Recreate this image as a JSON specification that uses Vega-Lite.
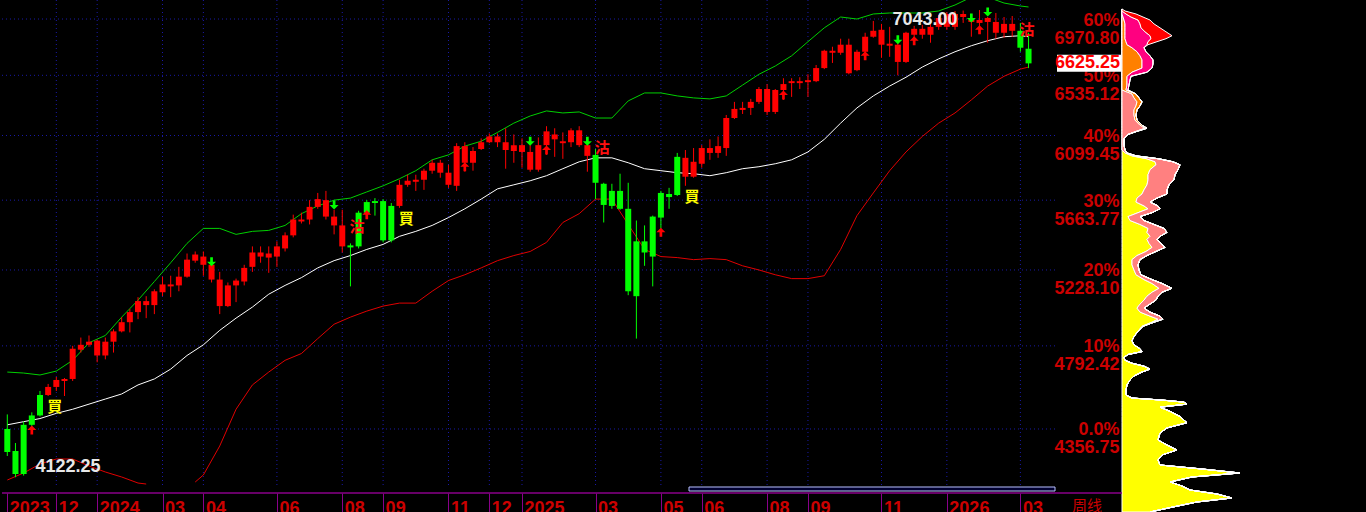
{
"$schema": "https://vega.github.io/schema/vega-lite/v6.json",
"width": 1366, "height": 512,
"autosize": {"type": "none"},
"padding": 0,
"background": "#000000",
"config": {"view": {"stroke": null}, "font": "Liberation Sans"},
"datasets": {
"c": [
{"d":"2023-10-20","o":4356.8,"h":4430.2,"l":4224.0,"c":4243.4,"s":"g"},
{"d":"2023-10-27","o":4248.3,"h":4287.4,"l":4122.25,"c":4137.7,"s":"g"},
{"d":"2023-11-03","o":4377.7,"h":4393.5,"l":4130.0,"c":4137.7,"s":"g"},
{"d":"2023-11-10","o":4425.0,"h":4440.7,"l":4362.0,"c":4377.7,"s":"g"},
{"d":"2023-11-17","o":4530.0,"h":4550.9,"l":4419.7,"c":4425.0,"s":"g"},
{"d":"2023-11-24","o":4530.0,"h":4587.7,"l":4524.7,"c":4572.0,"s":"r"},
{"d":"2023-12-01","o":4572.0,"h":4624.4,"l":4550.9,"c":4608.7,"s":"r"},
{"d":"2023-12-08","o":4603.5,"h":4619.2,"l":4524.7,"c":4614.0,"s":"r"},
{"d":"2023-12-15","o":4614.0,"h":4792.4,"l":4603.5,"c":4776.7,"s":"r"},
{"d":"2023-12-22","o":4771.4,"h":4838.3,"l":4755.7,"c":4798.2,"s":"r"},
{"d":"2023-12-29","o":4798.2,"h":4849.7,"l":4787.2,"c":4815.4,"s":"r"},
{"d":"2024-01-05","o":4739.9,"h":4826.8,"l":4703.2,"c":4821.1,"s":"r"},
{"d":"2024-01-12","o":4739.9,"h":4838.3,"l":4718.9,"c":4815.4,"s":"r"},
{"d":"2024-01-19","o":4815.4,"h":4884.1,"l":4755.7,"c":4872.7,"s":"r"},
{"d":"2024-01-26","o":4872.7,"h":4952.9,"l":4866.9,"c":4924.3,"s":"r"},
{"d":"2024-02-02","o":4924.3,"h":4998.8,"l":4866.9,"c":4981.6,"s":"r"},
{"d":"2024-02-09","o":4981.6,"h":5067.6,"l":4941.5,"c":5044.7,"s":"r"},
{"d":"2024-02-16","o":5021.7,"h":5073.3,"l":4947.2,"c":5044.7,"s":"r"},
{"d":"2024-02-23","o":5021.7,"h":5113.4,"l":4970.1,"c":5102.0,"s":"r"},
{"d":"2024-03-01","o":5096.2,"h":5188.0,"l":5073.3,"c":5142.1,"s":"r"},
{"d":"2024-03-08","o":5130.6,"h":5193.7,"l":5067.6,"c":5142.1,"s":"r"},
{"d":"2024-03-15","o":5136.4,"h":5246.8,"l":5102.0,"c":5188.0,"s":"r"},
{"d":"2024-03-22","o":5188.0,"h":5327.7,"l":5182.2,"c":5290.3,"s":"r"},
{"d":"2024-03-29","o":5284.1,"h":5340.1,"l":5271.7,"c":5321.5,"s":"r"},
{"d":"2024-04-05","o":5259.2,"h":5340.1,"l":5193.7,"c":5309.0,"s":"r"},
{"d":"2024-04-12","o":5170.8,"h":5271.7,"l":5153.6,"c":5259.2,"s":"r"},
{"d":"2024-04-19","o":5016.0,"h":5216.6,"l":4970.1,"c":5170.8,"s":"r"},
{"d":"2024-04-26","o":5016.0,"h":5153.6,"l":5010.3,"c":5136.4,"s":"r"},
{"d":"2024-05-03","o":5136.4,"h":5176.5,"l":5038.9,"c":5165.0,"s":"r"},
{"d":"2024-05-10","o":5159.3,"h":5259.2,"l":5136.4,"c":5240.5,"s":"r"},
{"d":"2024-05-17","o":5246.8,"h":5371.3,"l":5216.6,"c":5333.9,"s":"r"},
{"d":"2024-05-24","o":5309.0,"h":5371.3,"l":5271.7,"c":5333.9,"s":"r"},
{"d":"2024-05-31","o":5302.8,"h":5371.3,"l":5210.9,"c":5327.7,"s":"r"},
{"d":"2024-06-07","o":5309.0,"h":5402.4,"l":5246.8,"c":5371.3,"s":"r"},
{"d":"2024-06-14","o":5358.8,"h":5458.4,"l":5340.1,"c":5439.7,"s":"r"},
{"d":"2024-06-21","o":5439.7,"h":5570.4,"l":5427.3,"c":5539.3,"s":"r"},
{"d":"2024-06-28","o":5526.9,"h":5582.9,"l":5514.4,"c":5539.3,"s":"r"},
{"d":"2024-07-05","o":5539.3,"h":5663.8,"l":5508.2,"c":5620.2,"s":"r"},
{"d":"2024-07-12","o":5620.2,"h":5710.7,"l":5607.8,"c":5670.5,"s":"r"},
{"d":"2024-07-19","o":5558.0,"h":5724.1,"l":5539.3,"c":5663.8,"s":"r"},
{"d":"2024-07-26","o":5502.0,"h":5601.5,"l":5445.9,"c":5558.0,"s":"r"},
{"d":"2024-08-02","o":5371.3,"h":5601.5,"l":5333.9,"c":5502.0,"s":"r"},
{"d":"2024-08-09","o":5377.5,"h":5389.9,"l":5130.6,"c":5365.0,"s":"g"},
{"d":"2024-08-16","o":5582.9,"h":5595.3,"l":5358.8,"c":5371.3,"s":"g"},
{"d":"2024-08-23","o":5651.3,"h":5663.8,"l":5570.4,"c":5582.9,"s":"g"},
{"d":"2024-08-30","o":5657.6,"h":5677.2,"l":5564.2,"c":5645.1,"s":"g"},
{"d":"2024-09-06","o":5657.6,"h":5670.5,"l":5396.1,"c":5408.6,"s":"g"},
{"d":"2024-09-13","o":5626.4,"h":5645.1,"l":5396.1,"c":5408.6,"s":"g"},
{"d":"2024-09-20","o":5626.4,"h":5797.8,"l":5614.0,"c":5764.3,"s":"r"},
{"d":"2024-09-27","o":5764.3,"h":5831.3,"l":5750.9,"c":5791.1,"s":"r"},
{"d":"2024-10-04","o":5784.4,"h":5831.3,"l":5724.1,"c":5797.8,"s":"r"},
{"d":"2024-10-11","o":5797.8,"h":5871.6,"l":5730.8,"c":5858.2,"s":"r"},
{"d":"2024-10-18","o":5858.2,"h":5931.9,"l":5838.0,"c":5911.8,"s":"r"},
{"d":"2024-10-25","o":5844.8,"h":5931.9,"l":5811.2,"c":5911.8,"s":"r"},
{"d":"2024-11-01","o":5764.3,"h":5898.4,"l":5744.2,"c":5844.8,"s":"r"},
{"d":"2024-11-08","o":5757.6,"h":6045.9,"l":5724.1,"c":6025.7,"s":"r"},
{"d":"2024-11-15","o":5911.8,"h":6052.5,"l":5851.5,"c":6025.7,"s":"r"},
{"d":"2024-11-22","o":5911.8,"h":6019.0,"l":5858.2,"c":5992.2,"s":"r"},
{"d":"2024-11-29","o":6005.6,"h":6079.3,"l":5998.9,"c":6052.5,"s":"r"},
{"d":"2024-12-06","o":6052.5,"h":6114.0,"l":6045.9,"c":6092.8,"s":"r"},
{"d":"2024-12-13","o":6052.5,"h":6114.0,"l":6019.0,"c":6092.8,"s":"r"},
{"d":"2024-12-20","o":5998.9,"h":6150.3,"l":5871.6,"c":6052.5,"s":"r"},
{"d":"2024-12-27","o":5992.2,"h":6106.7,"l":5911.8,"c":6032.4,"s":"r"},
{"d":"2025-01-03","o":5985.5,"h":6079.3,"l":5878.3,"c":6032.4,"s":"r"},
{"d":"2025-01-10","o":5864.9,"h":6032.4,"l":5851.5,"c":5985.5,"s":"r"},
{"d":"2025-01-17","o":5864.9,"h":6086.1,"l":5851.5,"c":6032.4,"s":"r"},
{"d":"2025-01-24","o":6032.4,"h":6164.8,"l":5965.4,"c":6128.5,"s":"r"},
{"d":"2025-01-31","o":6072.7,"h":6150.3,"l":5952.0,"c":6106.7,"s":"r"},
{"d":"2025-02-07","o":6045.9,"h":6121.2,"l":5938.6,"c":6059.3,"s":"r"},
{"d":"2025-02-14","o":6052.5,"h":6150.3,"l":6019.0,"c":6135.8,"s":"r"},
{"d":"2025-02-21","o":6032.4,"h":6164.8,"l":6019.0,"c":6135.8,"s":"r"},
{"d":"2025-02-28","o":5958.7,"h":6045.9,"l":5851.5,"c":6032.4,"s":"r"},
{"d":"2025-03-07","o":5965.4,"h":6005.6,"l":5670.5,"c":5777.7,"s":"g"},
{"d":"2025-03-14","o":5771.0,"h":5777.7,"l":5520.6,"c":5632.7,"s":"g"},
{"d":"2025-03-21","o":5724.1,"h":5771.0,"l":5607.8,"c":5626.4,"s":"g"},
{"d":"2025-03-28","o":5724.1,"h":5838.0,"l":5601.5,"c":5607.8,"s":"g"},
{"d":"2025-04-04","o":5607.8,"h":5777.7,"l":5079.1,"c":5102.0,"s":"g"},
{"d":"2025-04-11","o":5402.4,"h":5533.1,"l":4832.5,"c":5073.3,"s":"g"},
{"d":"2025-04-18","o":5402.4,"h":5502.0,"l":5253.0,"c":5333.9,"s":"g"},
{"d":"2025-04-25","o":5558.0,"h":5564.2,"l":5130.6,"c":5309.0,"s":"g"},
{"d":"2025-05-02","o":5710.7,"h":5724.1,"l":5483.3,"c":5551.7,"s":"g"},
{"d":"2025-05-09","o":5704.0,"h":5744.2,"l":5607.8,"c":5683.9,"s":"g"},
{"d":"2025-05-16","o":5952.0,"h":5978.8,"l":5690.6,"c":5697.3,"s":"g"},
{"d":"2025-05-23","o":5818.0,"h":5998.9,"l":5757.6,"c":5945.3,"s":"r"},
{"d":"2025-05-30","o":5818.0,"h":6012.4,"l":5811.2,"c":5918.5,"s":"r"},
{"d":"2025-06-06","o":5905.1,"h":6032.4,"l":5878.3,"c":6012.4,"s":"r"},
{"d":"2025-06-13","o":5978.8,"h":6072.7,"l":5931.9,"c":6012.4,"s":"r"},
{"d":"2025-06-20","o":5978.8,"h":6092.8,"l":5945.3,"c":6025.7,"s":"r"},
{"d":"2025-06-27","o":6012.4,"h":6244.7,"l":5958.7,"c":6222.9,"s":"r"},
{"d":"2025-07-04","o":6222.9,"h":6339.1,"l":6215.6,"c":6288.2,"s":"r"},
{"d":"2025-07-11","o":6281.0,"h":6339.1,"l":6251.9,"c":6295.5,"s":"r"},
{"d":"2025-07-18","o":6295.5,"h":6360.8,"l":6244.7,"c":6339.1,"s":"r"},
{"d":"2025-07-25","o":6339.1,"h":6448.0,"l":6324.5,"c":6433.5,"s":"r"},
{"d":"2025-08-01","o":6266.4,"h":6469.8,"l":6244.7,"c":6433.5,"s":"r"},
{"d":"2025-08-08","o":6266.4,"h":6433.5,"l":6251.9,"c":6426.2,"s":"r"},
{"d":"2025-08-15","o":6426.2,"h":6513.3,"l":6353.6,"c":6469.8,"s":"r"},
{"d":"2025-08-22","o":6477.0,"h":6513.3,"l":6375.4,"c":6491.5,"s":"r"},
{"d":"2025-08-29","o":6477.0,"h":6520.6,"l":6433.5,"c":6491.5,"s":"r"},
{"d":"2025-09-05","o":6484.3,"h":6542.9,"l":6375.4,"c":6498.8,"s":"r"},
{"d":"2025-09-12","o":6491.5,"h":6612.9,"l":6484.3,"c":6589.6,"s":"r"},
{"d":"2025-09-19","o":6589.6,"h":6729.6,"l":6581.8,"c":6721.8,"s":"r"},
{"d":"2025-09-26","o":6706.3,"h":6752.9,"l":6628.5,"c":6721.8,"s":"r"},
{"d":"2025-10-03","o":6706.3,"h":6815.2,"l":6690.7,"c":6768.5,"s":"r"},
{"d":"2025-10-10","o":6550.7,"h":6815.2,"l":6542.9,"c":6768.5,"s":"r"},
{"d":"2025-10-17","o":6574.0,"h":6729.6,"l":6566.2,"c":6714.0,"s":"r"},
{"d":"2025-10-24","o":6714.0,"h":6861.9,"l":6667.4,"c":6830.7,"s":"r"},
{"d":"2025-10-31","o":6830.7,"h":6955.2,"l":6823.0,"c":6877.4,"s":"r"},
{"d":"2025-11-07","o":6768.5,"h":6931.9,"l":6667.4,"c":6885.2,"s":"r"},
{"d":"2025-11-14","o":6760.7,"h":6908.5,"l":6675.1,"c":6776.3,"s":"r"},
{"d":"2025-11-21","o":6636.2,"h":6784.1,"l":6535.1,"c":6768.5,"s":"r"},
{"d":"2025-11-28","o":6636.2,"h":6869.7,"l":6628.5,"c":6861.9,"s":"r"},
{"d":"2025-12-05","o":6846.3,"h":6916.3,"l":6807.4,"c":6893.0,"s":"r"},
{"d":"2025-12-12","o":6846.3,"h":6924.1,"l":6815.2,"c":6893.0,"s":"r"},
{"d":"2025-12-19","o":6846.3,"h":6963.0,"l":6784.1,"c":6908.5,"s":"r"},
{"d":"2025-12-26","o":6908.5,"h":7003.1,"l":6885.2,"c":6978.9,"s":"r"},
{"d":"2026-01-02","o":6908.5,"h":7027.3,"l":6885.2,"c":7011.2,"s":"r"},
{"d":"2026-01-09","o":6908.5,"h":7035.4,"l":6885.2,"c":7011.2,"s":"r"},
{"d":"2026-01-16","o":6986.9,"h":7039.0,"l":6939.7,"c":7011.2,"s":"r"},
{"d":"2026-01-23","o":6947.4,"h":6978.9,"l":6830.7,"c":6963.0,"s":"r"},
{"d":"2026-01-30","o":6939.7,"h":7043.0,"l":6861.9,"c":6963.0,"s":"r"},
{"d":"2026-02-06","o":6947.4,"h":6986.9,"l":6784.1,"c":6978.9,"s":"r"},
{"d":"2026-02-13","o":6861.9,"h":7019.2,"l":6815.2,"c":6947.4,"s":"r"},
{"d":"2026-02-20","o":6861.9,"h":6986.9,"l":6823.0,"c":6931.9,"s":"r"},
{"d":"2026-02-27","o":6877.4,"h":6995.0,"l":6830.7,"c":6931.9,"s":"r"},
{"d":"2026-03-06","o":6877.4,"h":6939.7,"l":6714.0,"c":6745.2,"s":"g"},
{"d":"2026-03-13","o":6737.4,"h":6861.9,"l":6589.6,"c":6625.25,"s":"g"}
],
"b": [
{"d":"2023-10-20","u":4650.7,"m":4377.7},
{"d":"2023-11-03","u":4645.4,"m":4393.5},
{"d":"2023-11-17","u":4635.0,"m":4409.2},
{"d":"2023-12-01","u":4655.9,"m":4435.5},
{"d":"2023-12-15","u":4713.7,"m":4456.5},
{"d":"2023-12-29","u":4809.6,"m":4482.7},
{"d":"2024-01-12","u":4849.8,"m":4509.0},
{"d":"2024-01-26","u":4952.9,"m":4535.2},
{"d":"2024-02-09","u":5050.4,"m":4582.5},
{"d":"2024-02-23","u":5159.3,"m":4614.0},
{"d":"2024-03-08","u":5271.7,"m":4666.4},
{"d":"2024-03-22","u":5389.9,"m":4739.9},
{"d":"2024-04-05","u":5483.3,"m":4798.2},
{"d":"2024-04-19","u":5483.3,"m":4878.4},
{"d":"2024-05-03","u":5445.9,"m":4947.2},
{"d":"2024-05-17","u":5464.6,"m":5010.3},
{"d":"2024-05-31","u":5470.8,"m":5084.8},
{"d":"2024-06-14","u":5502.0,"m":5136.4},
{"d":"2024-06-28","u":5576.6,"m":5182.2},
{"d":"2024-07-12","u":5626.4,"m":5240.5},
{"d":"2024-07-26","u":5663.8,"m":5284.1},
{"d":"2024-08-09","u":5677.2,"m":5315.2},
{"d":"2024-08-23","u":5717.4,"m":5352.6},
{"d":"2024-09-06","u":5757.6,"m":5383.7},
{"d":"2024-09-20","u":5804.5,"m":5433.5},
{"d":"2024-10-04","u":5858.2,"m":5464.6},
{"d":"2024-10-18","u":5931.9,"m":5502.0},
{"d":"2024-11-01","u":5965.4,"m":5551.7},
{"d":"2024-11-15","u":6025.7,"m":5607.8},
{"d":"2024-11-29","u":6059.3,"m":5670.5},
{"d":"2024-12-13","u":6121.2,"m":5737.5},
{"d":"2024-12-27","u":6186.6,"m":5764.3},
{"d":"2025-01-10","u":6237.4,"m":5791.1},
{"d":"2025-01-24","u":6273.7,"m":5824.7},
{"d":"2025-02-07","u":6259.2,"m":5871.6},
{"d":"2025-02-21","u":6266.4,"m":5918.5},
{"d":"2025-03-07","u":6222.9,"m":5945.3},
{"d":"2025-03-21","u":6222.9,"m":5945.3},
{"d":"2025-04-04","u":6346.3,"m":5911.8},
{"d":"2025-04-18","u":6404.4,"m":5871.6},
{"d":"2025-05-02","u":6404.4,"m":5858.2},
{"d":"2025-05-16","u":6382.6,"m":5844.8},
{"d":"2025-05-30","u":6368.1,"m":5838.0},
{"d":"2025-06-13","u":6360.8,"m":5824.7},
{"d":"2025-06-27","u":6382.6,"m":5844.8},
{"d":"2025-07-11","u":6462.5,"m":5871.6},
{"d":"2025-07-25","u":6542.9,"m":5885.0},
{"d":"2025-08-08","u":6605.1,"m":5905.1},
{"d":"2025-08-22","u":6682.9,"m":5931.9},
{"d":"2025-09-05","u":6791.9,"m":5985.5},
{"d":"2025-09-19","u":6900.8,"m":6072.7},
{"d":"2025-10-03","u":6986.9,"m":6186.6},
{"d":"2025-10-17","u":6970.8,"m":6295.5},
{"d":"2025-10-31","u":7011.2,"m":6382.6},
{"d":"2025-11-14","u":7019.2,"m":6455.2},
{"d":"2025-11-28","u":7019.2,"m":6520.6},
{"d":"2025-12-12","u":7019.2,"m":6597.4},
{"d":"2025-12-26","u":7035.4,"m":6659.6},
{"d":"2026-01-09","u":7083.8,"m":6714.0},
{"d":"2026-01-23","u":7148.3,"m":6760.7},
{"d":"2026-02-06","u":7148.3,"m":6799.6},
{"d":"2026-02-20","u":7099.9,"m":6830.7},
{"d":"2026-03-06","u":7075.7,"m":6838.5},
{"d":"2026-03-13","u":7067.6,"m":6830.7}
],
"lo": [
{"d":"2023-10-20","v":4109.2,"g":1},
{"d":"2023-11-03","v":4142.4,"g":1},
{"d":"2023-11-17","v":4185.4,"g":1},
{"d":"2023-12-01","v":4209.4,"g":1},
{"d":"2023-12-15","v":4209.4,"g":1},
{"d":"2023-12-29","v":4175.8,"g":1},
{"d":"2024-01-12","v":4147.2,"g":1},
{"d":"2024-01-26","v":4123.5,"g":1},
{"d":"2024-02-09","v":4095.1,"g":1},
{"d":"2024-02-16","v":4090.4,"g":1},
{"d":"2024-03-29","v":4099.8,"g":2},
{"d":"2024-04-05","v":4133.0,"g":2},
{"d":"2024-04-19","v":4272.7,"g":2},
{"d":"2024-05-03","v":4456.5,"g":2},
{"d":"2024-05-17","v":4582.5,"g":2},
{"d":"2024-05-31","v":4650.7,"g":2},
{"d":"2024-06-14","v":4713.7,"g":2},
{"d":"2024-06-28","v":4750.4,"g":2},
{"d":"2024-07-12","v":4832.5,"g":2},
{"d":"2024-07-26","v":4912.8,"g":2},
{"d":"2024-08-09","v":4952.9,"g":2},
{"d":"2024-08-23","v":4987.3,"g":2},
{"d":"2024-09-06","v":5016.0,"g":2},
{"d":"2024-09-20","v":5033.2,"g":2},
{"d":"2024-10-04","v":5033.2,"g":2},
{"d":"2024-10-18","v":5102.0,"g":2},
{"d":"2024-11-01","v":5165.0,"g":2},
{"d":"2024-11-15","v":5199.4,"g":2},
{"d":"2024-11-29","v":5240.5,"g":2},
{"d":"2024-12-13","v":5284.1,"g":2},
{"d":"2024-12-27","v":5315.2,"g":2},
{"d":"2025-01-10","v":5340.1,"g":2},
{"d":"2025-01-24","v":5396.1,"g":2},
{"d":"2025-02-07","v":5520.6,"g":2},
{"d":"2025-02-21","v":5576.6,"g":2},
{"d":"2025-03-07","v":5670.5,"g":2},
{"d":"2025-03-21","v":5670.5,"g":2},
{"d":"2025-04-04","v":5508.2,"g":2},
{"d":"2025-04-18","v":5352.6,"g":2},
{"d":"2025-05-02","v":5309.0,"g":2},
{"d":"2025-05-16","v":5302.8,"g":2},
{"d":"2025-05-30","v":5290.3,"g":2},
{"d":"2025-06-13","v":5296.6,"g":2},
{"d":"2025-06-27","v":5290.3,"g":2},
{"d":"2025-07-11","v":5253.0,"g":2},
{"d":"2025-07-25","v":5228.1,"g":2},
{"d":"2025-08-08","v":5199.4,"g":2},
{"d":"2025-08-22","v":5176.5,"g":2},
{"d":"2025-09-05","v":5176.5,"g":2},
{"d":"2025-09-19","v":5193.7,"g":2},
{"d":"2025-10-03","v":5352.6,"g":2},
{"d":"2025-10-17","v":5564.2,"g":2},
{"d":"2025-10-31","v":5710.7,"g":2},
{"d":"2025-11-14","v":5858.2,"g":2},
{"d":"2025-11-28","v":5985.5,"g":2},
{"d":"2025-12-12","v":6092.8,"g":2},
{"d":"2025-12-26","v":6186.6,"g":2},
{"d":"2026-01-09","v":6259.2,"g":2},
{"d":"2026-01-23","v":6353.6,"g":2},
{"d":"2026-02-06","v":6455.2,"g":2},
{"d":"2026-02-20","v":6527.9,"g":2},
{"d":"2026-03-06","v":6581.8,"g":2},
{"d":"2026-03-13","v":6597.4,"g":2}
],
"ar": [
{"d":"2023-11-10","p":4351.8,"k":"u"},
{"d":"2024-08-23","p":5570.4,"k":"u"},
{"d":"2024-11-15","p":5885.0,"k":"u"},
{"d":"2025-01-24","p":5998.9,"k":"u"},
{"d":"2025-05-02","p":5458.4,"k":"u"},
{"d":"2025-08-15","p":6389.9,"k":"u"},
{"d":"2025-10-24","p":6682.9,"k":"u"},
{"d":"2025-12-05","p":6799.6,"k":"u"},
{"d":"2026-01-30","p":6885.2,"k":"u"},
{"d":"2024-04-12","p":5277.9,"k":"d"},
{"d":"2024-07-26","p":5632.7,"k":"d"},
{"d":"2025-01-10","p":6059.3,"k":"d"},
{"d":"2025-02-28","p":6059.3,"k":"d"},
{"d":"2025-11-21","p":6807.4,"k":"d"},
{"d":"2026-01-23","p":6978.9,"k":"d"},
{"d":"2026-02-06","p":7027.3,"k":"d"}
],
"tx": [
{"d":"2023-12-01","t":"買","p":4467.0},
{"d":"2024-09-27","t":"買","p":5545.5},
{"d":"2025-05-30","t":"買","p":5683.9},
{"d":"2024-08-16","t":"沽","p":5489.5},
{"d":"2025-03-14","t":"沽","p":6012.4},
{"d":"2026-03-13","t":"沽","p":6885.2}
],
"tk": [
{"d":"2023-12-01"},{"d":"2024-01-05"},{"d":"2024-03-01"},{"d":"2024-04-05"},{"d":"2024-06-07"},{"d":"2024-08-02"},{"d":"2024-09-06"},{"d":"2024-11-01"},{"d":"2024-12-06"},{"d":"2025-01-03"},{"d":"2025-03-07"},{"d":"2025-05-02"},{"d":"2025-06-06"},{"d":"2025-08-01"},{"d":"2025-09-05"},{"d":"2025-11-07"},{"d":"2026-01-02"},{"d":"2026-03-06"}
],
"lv": [{"p":4356.75},{"p":4792.42},{"p":5228.10},{"p":5663.77},{"p":6099.45},{"p":6535.12},{"p":6970.80}],
"pf": [
{"p":7051.5,"a":0,"b":0,"c":0,"d":0,"e":0},
{"p":7035.4,"a":0,"b":0,"c":0,"d":0,"e":3},
{"p":7011.2,"a":0,"b":0,"c":0,"d":4,"e":10},
{"p":6986.9,"a":0,"b":0,"c":1,"d":8,"e":12},
{"p":6963.0,"a":0,"b":0,"c":2,"d":14,"e":12},
{"p":6931.9,"a":0,"b":0,"c":3,"d":15,"e":14},
{"p":6900.8,"a":0,"b":0,"c":3,"d":16,"e":19},
{"p":6869.6,"a":0,"b":0,"c":3,"d":20,"e":21},
{"p":6838.5,"a":0,"b":0,"c":3,"d":25,"e":22},
{"p":6815.2,"a":0,"b":0,"c":3,"d":26,"e":15},
{"p":6791.9,"a":0,"b":0,"c":4,"d":22,"e":9},
{"p":6768.5,"a":0,"b":0,"c":5,"d":20,"e":1},
{"p":6745.2,"a":0,"b":0,"c":10,"d":12,"e":0},
{"p":6714.0,"a":0,"b":0,"c":15,"d":9,"e":0},
{"p":6682.9,"a":0,"b":0,"c":18,"d":10,"e":0},
{"p":6651.8,"a":0,"b":0,"c":20,"d":11,"e":0},
{"p":6620.7,"a":0,"b":0,"c":20,"d":11,"e":0},
{"p":6589.6,"a":0,"b":0,"c":20,"d":10,"e":0},
{"p":6558.5,"a":0,"b":0,"c":10,"d":15,"e":0},
{"p":6527.9,"a":0,"b":0,"c":5,"d":4,"e":0},
{"p":6498.8,"a":0,"b":0,"c":5,"d":3,"e":0},
{"p":6462.5,"a":0,"b":0,"c":5,"d":2,"e":0},
{"p":6426.2,"a":0,"b":0,"c":4,"d":2,"e":0},
{"p":6397.2,"a":0,"b":10,"c":4,"d":0,"e":0},
{"p":6368.1,"a":0,"b":12,"c":5,"d":0,"e":0},
{"p":6339.1,"a":0,"b":15,"c":5,"d":0,"e":0},
{"p":6310.0,"a":0,"b":14,"c":4,"d":0,"e":0},
{"p":6281.0,"a":0,"b":12,"c":3,"d":0,"e":0},
{"p":6244.7,"a":0,"b":12,"c":2,"d":0,"e":0},
{"p":6208.4,"a":0,"b":13,"c":2,"d":0,"e":0},
{"p":6172.1,"a":0,"b":18,"c":2,"d":0,"e":0},
{"p":6150.3,"a":0,"b":23,"c":2,"d":0,"e":0},
{"p":6128.5,"a":0,"b":14,"c":1,"d":0,"e":0},
{"p":6106.7,"a":0,"b":6,"c":0,"d":0,"e":0},
{"p":6079.3,"a":0,"b":2,"c":0,"d":0,"e":0},
{"p":6032.4,"a":0,"b":2,"c":0,"d":0,"e":0},
{"p":5998.9,"a":0,"b":3,"c":0,"d":0,"e":0},
{"p":5978.8,"a":3,"b":2,"c":0,"d":0,"e":0},
{"p":5958.7,"a":10,"b":4,"c":0,"d":0,"e":0},
{"p":5938.6,"a":25,"b":12,"c":0,"d":0,"e":0},
{"p":5918.5,"a":33,"b":18,"c":0,"d":0,"e":0},
{"p":5898.4,"a":34,"b":24,"c":0,"d":0,"e":0},
{"p":5864.9,"a":28,"b":28,"c":0,"d":0,"e":0},
{"p":5831.3,"a":26,"b":27,"c":0,"d":0,"e":0},
{"p":5797.8,"a":26,"b":26,"c":0,"d":0,"e":0},
{"p":5764.3,"a":25,"b":22,"c":0,"d":0,"e":0},
{"p":5730.8,"a":22,"b":23,"c":0,"d":0,"e":0},
{"p":5704.0,"a":20,"b":25,"c":0,"d":0,"e":0},
{"p":5677.2,"a":15,"b":20,"c":0,"d":0,"e":0},
{"p":5651.3,"a":14,"b":14,"c":0,"d":0,"e":0},
{"p":5626.4,"a":22,"b":14,"c":0,"d":0,"e":0},
{"p":5607.8,"a":26,"b":12,"c":0,"d":0,"e":0},
{"p":5582.9,"a":16,"b":14,"c":0,"d":0,"e":0},
{"p":5558.0,"a":6,"b":12,"c":0,"d":0,"e":0},
{"p":5533.1,"a":8,"b":14,"c":0,"d":0,"e":0},
{"p":5508.2,"a":18,"b":14,"c":0,"d":0,"e":0},
{"p":5483.3,"a":26,"b":16,"c":0,"d":0,"e":0},
{"p":5458.4,"a":25,"b":20,"c":0,"d":0,"e":0},
{"p":5433.5,"a":28,"b":10,"c":0,"d":0,"e":0},
{"p":5414.8,"a":25,"b":10,"c":0,"d":0,"e":0},
{"p":5389.9,"a":27,"b":12,"c":0,"d":0,"e":0},
{"p":5365.0,"a":30,"b":13,"c":0,"d":0,"e":0},
{"p":5340.1,"a":24,"b":10,"c":0,"d":0,"e":0},
{"p":5315.2,"a":15,"b":10,"c":0,"d":0,"e":0},
{"p":5290.3,"a":10,"b":8,"c":0,"d":0,"e":0},
{"p":5259.2,"a":10,"b":6,"c":0,"d":0,"e":0},
{"p":5228.1,"a":12,"b":5,"c":0,"d":0,"e":0},
{"p":5199.4,"a":14,"b":5,"c":0,"d":0,"e":0},
{"p":5170.8,"a":22,"b":8,"c":0,"d":0,"e":0},
{"p":5147.8,"a":30,"b":10,"c":0,"d":0,"e":0},
{"p":5119.2,"a":37,"b":13,"c":0,"d":0,"e":0},
{"p":5096.2,"a":30,"b":10,"c":0,"d":0,"e":0},
{"p":5073.3,"a":25,"b":11,"c":0,"d":0,"e":0},
{"p":5050.4,"a":22,"b":12,"c":0,"d":0,"e":0},
{"p":5027.5,"a":18,"b":10,"c":0,"d":0,"e":0},
{"p":5004.5,"a":15,"b":7,"c":0,"d":0,"e":0},
{"p":4981.6,"a":18,"b":10,"c":0,"d":0,"e":0},
{"p":4958.7,"a":28,"b":10,"c":0,"d":0,"e":0},
{"p":4941.5,"a":36,"b":5,"c":0,"d":0,"e":0},
{"p":4924.3,"a":30,"b":2,"c":0,"d":0,"e":0},
{"p":4901.3,"a":20,"b":1,"c":0,"d":0,"e":0},
{"p":4872.7,"a":16,"b":0,"c":0,"d":0,"e":0},
{"p":4844.0,"a":12,"b":0,"c":0,"d":0,"e":0},
{"p":4821.1,"a":10,"b":0,"c":0,"d":0,"e":0},
{"p":4798.2,"a":12,"b":0,"c":0,"d":0,"e":0},
{"p":4776.7,"a":18,"b":0,"c":0,"d":0,"e":0},
{"p":4761.0,"a":20,"b":0,"c":0,"d":0,"e":0},
{"p":4745.2,"a":6,"b":0,"c":0,"d":0,"e":0},
{"p":4729.4,"a":2,"b":0,"c":0,"d":0,"e":0},
{"p":4713.7,"a":3,"b":0,"c":0,"d":0,"e":0},
{"p":4697.9,"a":10,"b":0,"c":0,"d":0,"e":0},
{"p":4682.2,"a":22,"b":0,"c":0,"d":0,"e":0},
{"p":4666.4,"a":28,"b":0,"c":0,"d":0,"e":0},
{"p":4650.7,"a":20,"b":0,"c":0,"d":0,"e":0},
{"p":4629.7,"a":12,"b":0,"c":0,"d":0,"e":0},
{"p":4608.7,"a":8,"b":0,"c":0,"d":0,"e":0},
{"p":4582.5,"a":5,"b":0,"c":0,"d":0,"e":0},
{"p":4556.2,"a":4,"b":0,"c":0,"d":0,"e":0},
{"p":4530.0,"a":4,"b":0,"c":0,"d":0,"e":0},
{"p":4514.2,"a":10,"b":0,"c":0,"d":0,"e":0},
{"p":4503.7,"a":40,"b":0,"c":0,"d":0,"e":0},
{"p":4493.2,"a":62,"b":0,"c":0,"d":0,"e":0},
{"p":4482.7,"a":65,"b":0,"c":0,"d":0,"e":0},
{"p":4467.0,"a":38,"b":0,"c":0,"d":0,"e":0},
{"p":4446.0,"a":48,"b":0,"c":0,"d":0,"e":0},
{"p":4419.7,"a":58,"b":0,"c":0,"d":0,"e":0},
{"p":4388.2,"a":65,"b":0,"c":0,"d":0,"e":0},
{"p":4362.0,"a":45,"b":0,"c":0,"d":0,"e":0},
{"p":4336.8,"a":38,"b":0,"c":0,"d":0,"e":0},
{"p":4302.2,"a":36,"b":0,"c":0,"d":0,"e":0},
{"p":4277.6,"a":45,"b":0,"c":0,"d":0,"e":0},
{"p":4253.1,"a":55,"b":0,"c":0,"d":0,"e":0},
{"p":4228.8,"a":40,"b":0,"c":0,"d":0,"e":0},
{"p":4204.7,"a":36,"b":0,"c":0,"d":0,"e":0},
{"p":4180.6,"a":38,"b":0,"c":0,"d":0,"e":0},
{"p":4161.5,"a":80,"b":0,"c":0,"d":0,"e":0},
{"p":4142.4,"a":118,"b":0,"c":0,"d":0,"e":0},
{"p":4123.5,"a":70,"b":0,"c":0,"d":0,"e":0},
{"p":4099.8,"a":48,"b":0,"c":0,"d":0,"e":0},
{"p":4081.2,"a":60,"b":0,"c":0,"d":0,"e":0},
{"p":4062.5,"a":68,"b":0,"c":0,"d":0,"e":0},
{"p":4043.9,"a":95,"b":0,"c":0,"d":0,"e":0},
{"p":4025.4,"a":110,"b":0,"c":0,"d":0,"e":0},
{"p":4007.0,"a":75,"b":0,"c":0,"d":0,"e":0},
{"p":3984.1,"a":51,"b":0,"c":0,"d":0,"e":0},
{"p":3961.3,"a":28,"b":0,"c":0,"d":0,"e":0}
]
},
"resolve": {"scale": {"x": "independent", "color": "independent"}},
"layer": [
{
"resolve": {"scale": {"color": "independent", "shape": "independent"}},
"layer": [
{"data": {"name": "tk"}, "mark": {"type": "rule", "color": "#1a1aa8", "strokeDash": [1, 3], "strokeWidth": 1},
 "encoding": {
  "x": {"field": "d", "type": "temporal", "title": null,
   "scale": {"type": "utc", "padding": 0, "domain": [{"year":2023,"month":10,"date":13,"hours":17,"minutes":53,"utc":true},{"year":2026,"month":12,"date":27,"hours":3,"minutes":7,"utc":true}]},
   "axis": {"values": [{"year":2023,"month":10,"date":20,"utc":true},{"year":2023,"month":12,"date":1,"utc":true},{"year":2024,"month":1,"date":5,"utc":true},{"year":2024,"month":3,"date":1,"utc":true},{"year":2024,"month":4,"date":5,"utc":true},{"year":2024,"month":6,"date":7,"utc":true},{"year":2024,"month":8,"date":2,"utc":true},{"year":2024,"month":9,"date":6,"utc":true},{"year":2024,"month":11,"date":1,"utc":true},{"year":2024,"month":12,"date":6,"utc":true},{"year":2025,"month":1,"date":3,"utc":true},{"year":2025,"month":3,"date":7,"utc":true},{"year":2025,"month":5,"date":2,"utc":true},{"year":2025,"month":6,"date":6,"utc":true},{"year":2025,"month":8,"date":1,"utc":true},{"year":2025,"month":9,"date":5,"utc":true},{"year":2025,"month":11,"date":7,"utc":true},{"year":2026,"month":1,"date":2,"utc":true},{"year":2026,"month":3,"date":6,"utc":true}],
    "labelExpr": "(utcmonth(datum.value)==0 || utcmonth(datum.value)==9) ? utcFormat(datum.value,'%Y') : utcFormat(datum.value,'%m')",
    "domain": false, "grid": false, "ticks": true, "tickColor": "#8a008a", "tickSize": 20, "tickWidth": 1,
    "labelColor": "#cc0000", "labelFont": "Liberation Sans", "labelFontSize": 18, "labelFontWeight": "bold",
    "labelAlign": "left", "labelBaseline": "top", "labelPadding": -14, "labelOffset": 2, "offset": -19,
    "labelOverlap": false, "labelFlush": false, "labelBound": false, "title": null, "zindex": 1}},
  "y": {"datum": 7124.5, "type": "quantitative", "title": null, "scale": {"type": "log", "domain": [3961.3, 7124.5], "nice": false}},
  "y2": {"datum": 4076.5}
 }},
{"data": {"name": "lv"}, "mark": {"type": "rule", "color": "#1a1aa8", "strokeDash": [1, 3], "strokeWidth": 1},
 "encoding": {
  "x": {"datum": {"year":2023,"month":10,"date":15,"hours":11,"utc":true}, "type": "temporal", "title": null,
   "scale": {"type": "utc", "padding": 0, "domain": [{"year":2023,"month":10,"date":13,"hours":17,"minutes":53,"utc":true},{"year":2026,"month":12,"date":27,"hours":3,"minutes":7,"utc":true}]}},
  "x2": {"datum": {"year":2026,"month":4,"date":5,"hours":12,"minutes":29,"utc":true}},
  "y": {"field": "p", "type": "quantitative", "title": null, "scale": {"type": "log", "domain": [3961.3, 7124.5], "nice": false},
   "axis": {"orient": "left", "offset": -1121, "values": [4356.75, 4792.42, 5228.10, 5663.77, 6099.45, 6535.12, 6970.80],
    "labelExpr": "[datum.value < 4400 ? '0.0%' : format(round((datum.value/4356.75-1)*100),'d') + '%', format(datum.value,'.2f')]",
    "labelAlign": "right", "labelBaseline": "top", "labelOffset": -8, "labelLineHeight": 18, "labelPadding": 2,
    "ticks": false, "domain": false, "grid": false, "labelColor": "#cc0000", "labelFontSize": 18, "labelFontWeight": "bold",
    "labelFont": "Liberation Sans", "title": null, "labelOverlap": false, "labelFlush": false, "labelBound": false}}
 }},
{"mark": {"type": "rule", "color": "#ff2020", "strokeWidth": 2},
 "encoding": {
  "x": {"datum": {"year":2023,"month":10,"date":15,"hours":11,"utc":true}, "type": "temporal", "title": null,
   "scale": {"type": "utc", "padding": 0, "domain": [{"year":2023,"month":10,"date":13,"hours":17,"minutes":53,"utc":true},{"year":2026,"month":12,"date":27,"hours":3,"minutes":7,"utc":true}]}}
 }},
{"mark": {"type": "rule", "color": "#8a008a", "strokeWidth": 1.5},
 "encoding": {
  "x": {"datum": {"year":2026,"month":4,"date":5,"hours":12,"minutes":29,"utc":true}, "type": "temporal", "title": null,
   "scale": {"type": "utc", "padding": 0, "domain": [{"year":2023,"month":10,"date":13,"hours":17,"minutes":53,"utc":true},{"year":2026,"month":12,"date":27,"hours":3,"minutes":7,"utc":true}]}}
 }},
{"data": {"name": "b"}, "mark": {"type": "line", "color": "#00d000", "strokeWidth": 1, "clip": true},
 "encoding": {
  "x": {"field": "d", "type": "temporal", "title": null,
   "scale": {"type": "utc", "padding": 0, "domain": [{"year":2023,"month":10,"date":13,"hours":17,"minutes":53,"utc":true},{"year":2026,"month":12,"date":27,"hours":3,"minutes":7,"utc":true}]}},
  "y": {"field": "u", "type": "quantitative", "title": null, "scale": {"type": "log", "domain": [3961.3, 7124.5], "nice": false}}
 }},
{"data": {"name": "b"}, "mark": {"type": "line", "color": "#ffffff", "strokeWidth": 1},
 "encoding": {
  "x": {"field": "d", "type": "temporal", "title": null,
   "scale": {"type": "utc", "padding": 0, "domain": [{"year":2023,"month":10,"date":13,"hours":17,"minutes":53,"utc":true},{"year":2026,"month":12,"date":27,"hours":3,"minutes":7,"utc":true}]}},
  "y": {"field": "m", "type": "quantitative", "title": null, "scale": {"type": "log", "domain": [3961.3, 7124.5], "nice": false}}
 }},
{"data": {"name": "lo"}, "mark": {"type": "line", "color": "#e00000", "strokeWidth": 1},
 "encoding": {
  "x": {"field": "d", "type": "temporal", "title": null,
   "scale": {"type": "utc", "padding": 0, "domain": [{"year":2023,"month":10,"date":13,"hours":17,"minutes":53,"utc":true},{"year":2026,"month":12,"date":27,"hours":3,"minutes":7,"utc":true}]}},
  "y": {"field": "v", "type": "quantitative", "title": null, "scale": {"type": "log", "domain": [3961.3, 7124.5], "nice": false}},
  "detail": {"field": "g", "type": "nominal"}
 }},
{"data": {"name": "c"}, "mark": {"type": "rule", "strokeWidth": 1},
 "encoding": {
  "x": {"field": "d", "type": "temporal", "title": null,
   "scale": {"type": "utc", "padding": 0, "domain": [{"year":2023,"month":10,"date":13,"hours":17,"minutes":53,"utc":true},{"year":2026,"month":12,"date":27,"hours":3,"minutes":7,"utc":true}]}},
  "y": {"field": "l", "type": "quantitative", "title": null, "scale": {"type": "log", "domain": [3961.3, 7124.5], "nice": false}},
  "y2": {"field": "h"},
  "color": {"field": "s", "type": "nominal", "scale": {"domain": ["r", "g"], "range": ["#ff0000", "#00ff00"]}, "legend": null}
 }},
{"data": {"name": "c"}, "mark": {"type": "bar", "size": 6},
 "encoding": {
  "x": {"field": "d", "type": "temporal", "title": null,
   "scale": {"type": "utc", "padding": 0, "domain": [{"year":2023,"month":10,"date":13,"hours":17,"minutes":53,"utc":true},{"year":2026,"month":12,"date":27,"hours":3,"minutes":7,"utc":true}]}},
  "y": {"field": "o", "type": "quantitative", "title": null, "scale": {"type": "log", "domain": [3961.3, 7124.5], "nice": false}},
  "y2": {"field": "c"},
  "color": {"field": "s", "type": "nominal", "scale": {"domain": ["r", "g"], "range": ["#ff0000", "#00ff00"]}, "legend": null}
 }},
{"data": {"name": "ar"}, "mark": {"type": "point", "filled": true, "size": 81, "opacity": 1, "strokeWidth": 0},
 "encoding": {
  "x": {"field": "d", "type": "temporal", "title": null,
   "scale": {"type": "utc", "padding": 0, "domain": [{"year":2023,"month":10,"date":13,"hours":17,"minutes":53,"utc":true},{"year":2026,"month":12,"date":27,"hours":3,"minutes":7,"utc":true}]}},
  "y": {"field": "p", "type": "quantitative", "title": null, "scale": {"type": "log", "domain": [3961.3, 7124.5], "nice": false}},
  "shape": {"field": "k", "type": "nominal", "scale": {"domain": ["u", "d"], "range": ["M-0.3,1L0.3,1L0.3,0L1,0L0,-1L-1,0L-0.3,0Z", "M-0.3,-1L0.3,-1L0.3,0L1,0L0,1L-1,0L-0.3,0Z"]}, "legend": null},
  "color": {"field": "k", "type": "nominal", "scale": {"domain": ["u", "d"], "range": ["#ff0000", "#00ff00"]}, "legend": null}
 }},
{"data": {"name": "tx"}, "mark": {"type": "text", "font": "Noto Sans CJK TC", "fontSize": 15, "fontWeight": "bold", "dx": -1.5, "baseline": "middle", "align": "center"},
 "encoding": {
  "x": {"field": "d", "type": "temporal", "title": null,
   "scale": {"type": "utc", "padding": 0, "domain": [{"year":2023,"month":10,"date":13,"hours":17,"minutes":53,"utc":true},{"year":2026,"month":12,"date":27,"hours":3,"minutes":7,"utc":true}]}},
  "y": {"field": "p", "type": "quantitative", "title": null, "scale": {"type": "log", "domain": [3961.3, 7124.5], "nice": false}},
  "text": {"field": "t", "type": "nominal"},
  "color": {"field": "t", "type": "nominal", "scale": {"domain": ["買", "沽"], "range": ["#ffff00", "#ff1010"]}, "legend": null}
 }},
{"data": {"values": [{"d": "2026-01-30", "t": "7043.00", "p": 7043.0}]}, "mark": {"type": "text", "fontSize": 18, "fontWeight": "bold", "color": "#e8e8e8", "align": "right", "baseline": "middle", "dx": -22, "dy": 10},
 "encoding": {
  "x": {"field": "d", "type": "temporal", "title": null,
   "scale": {"type": "utc", "padding": 0, "domain": [{"year":2023,"month":10,"date":13,"hours":17,"minutes":53,"utc":true},{"year":2026,"month":12,"date":27,"hours":3,"minutes":7,"utc":true}]}},
  "y": {"field": "p", "type": "quantitative", "title": null, "scale": {"type": "log", "domain": [3961.3, 7124.5], "nice": false}},
  "text": {"field": "t", "type": "nominal"}
 }},
{"data": {"values": [{"d": "2023-10-27", "t": "4122.25", "p": 4122.25}]}, "mark": {"type": "text", "fontSize": 18, "fontWeight": "bold", "color": "#e8e8e8", "align": "left", "baseline": "middle", "dx": 20, "dy": -10},
 "encoding": {
  "x": {"field": "d", "type": "temporal", "title": null,
   "scale": {"type": "utc", "padding": 0, "domain": [{"year":2023,"month":10,"date":13,"hours":17,"minutes":53,"utc":true},{"year":2026,"month":12,"date":27,"hours":3,"minutes":7,"utc":true}]}},
  "y": {"field": "p", "type": "quantitative", "title": null, "scale": {"type": "log", "domain": [3961.3, 7124.5], "nice": false}},
  "text": {"field": "t", "type": "nominal"}
 }}
]
},
{
"layer": [
{"data": {"name": "pf"}, "transform": [{"fold": ["a", "b", "c", "d", "e"], "as": ["k", "v"]}],
 "mark": {"type": "area", "orient": "horizontal", "stroke": "#ffffff", "strokeWidth": 1},
 "encoding": {
  "y": {"field": "p", "type": "quantitative", "title": null, "scale": {"type": "log", "domain": [3961.3, 7124.5], "nice": false}},
  "x": {"field": "v", "type": "quantitative", "stack": "zero", "scale": {"domain": [-1122, 244], "nice": false, "zero": false, "padding": 0}, "axis": null},
  "color": {"field": "k", "type": "nominal", "scale": {"domain": ["a", "b", "c", "d", "e"], "range": ["#ffff00", "#ff8080", "#ff8000", "#ff0080", "#ff0000"]}, "legend": null},
  "order": {"field": "k", "sort": "ascending"}
 }},
{"mark": {"type": "rule", "color": "#ff2020", "strokeWidth": 1.5},
 "encoding": {"x": {"datum": 0, "type": "quantitative", "scale": {"domain": [-1122, 244], "nice": false, "zero": false, "padding": 0}, "axis": null}}},
{"data": {"values": [{"p": 4048.5}]}, "mark": {"type": "tick", "orient": "horizontal", "size": 1120, "thickness": 1.5, "color": "#8a008a", "opacity": 1},
 "encoding": {
  "x": {"datum": -560, "type": "quantitative", "scale": {"domain": [-1122, 244], "nice": false, "zero": false, "padding": 0}, "axis": null},
  "y": {"field": "p", "type": "quantitative", "title": null, "scale": {"type": "log", "domain": [3961.3, 7124.5], "nice": false}}
 }},
{"data": {"values": [{"p": 4067.1}]}, "mark": {"type": "tick", "orient": "horizontal", "size": 366, "thickness": 4, "color": "#000030", "stroke": "#b8c0ff", "strokeWidth": 1, "opacity": 1},
 "encoding": {
  "x": {"datum": -250, "type": "quantitative", "scale": {"domain": [-1122, 244], "nice": false, "zero": false, "padding": 0}, "axis": null},
  "y": {"field": "p", "type": "quantitative", "title": null, "scale": {"type": "log", "domain": [3961.3, 7124.5], "nice": false}}
 }},
{"data": {"values": [{"p": 6625.25}]}, "mark": {"type": "tick", "orient": "horizontal", "size": 64, "thickness": 17, "color": "#ffffff", "opacity": 1},
 "encoding": {
  "x": {"datum": -33, "type": "quantitative", "scale": {"domain": [-1122, 244], "nice": false, "zero": false, "padding": 0}, "axis": null},
  "y": {"field": "p", "type": "quantitative", "title": null, "scale": {"type": "log", "domain": [3961.3, 7124.5], "nice": false}}
 }},
{"data": {"values": [{"t": "6625.25", "p": 6625.25}]}, "mark": {"type": "text", "fontSize": 18, "fontWeight": "bold", "color": "#ff0000", "align": "right", "baseline": "middle"},
 "encoding": {
  "x": {"datum": -2, "type": "quantitative", "scale": {"domain": [-1122, 244], "nice": false, "zero": false, "padding": 0}, "axis": null},
  "y": {"field": "p", "type": "quantitative", "title": null, "scale": {"type": "log", "domain": [3961.3, 7124.5], "nice": false}},
  "text": {"field": "t", "type": "nominal"}
 }},
{"data": {"values": [{"t": "周线", "p": 3988.6}]}, "mark": {"type": "text", "fontSize": 15, "font": "Noto Sans CJK SC", "color": "#cc0000", "align": "left", "baseline": "middle"},
 "encoding": {
  "x": {"datum": -50, "type": "quantitative", "scale": {"domain": [-1122, 244], "nice": false, "zero": false, "padding": 0}, "axis": null},
  "y": {"field": "p", "type": "quantitative", "title": null, "scale": {"type": "log", "domain": [3961.3, 7124.5], "nice": false}},
  "text": {"field": "t", "type": "nominal"}
 }}
]
}
]
}
